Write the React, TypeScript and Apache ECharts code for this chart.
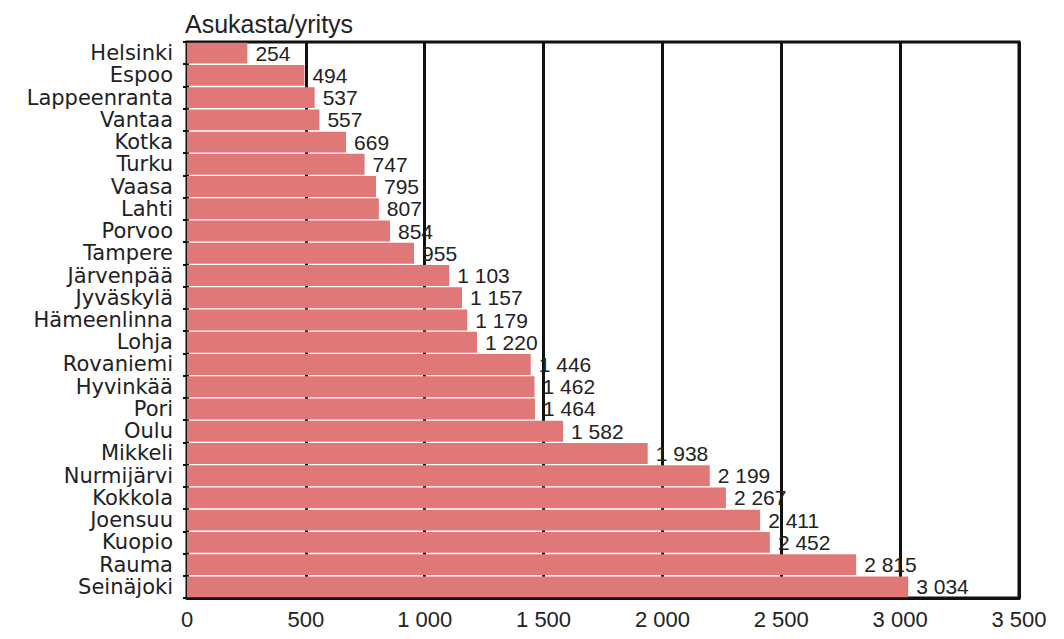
import React, { useEffect, useRef } from "react";
import * as echarts from "echarts";

const categories = [
  "Helsinki", "Espoo", "Lappeenranta", "Vantaa", "Kotka", "Turku", "Vaasa", "Lahti",
  "Porvoo", "Tampere", "Järvenpää", "Jyväskylä", "Hämeenlinna", "Lohja", "Rovaniemi",
  "Hyvinkää", "Pori", "Oulu", "Mikkeli", "Nurmijärvi", "Kokkola", "Joensuu", "Kuopio",
  "Rauma", "Seinäjoki",
];
const values = [
  254, 494, 537, 557, 669, 747, 795, 807, 854, 955, 1103, 1157, 1179, 1220, 1446,
  1462, 1464, 1582, 1938, 2199, 2267, 2411, 2452, 2815, 3034,
];
const title = "Asukasta/yritys";
const xMin = 0;
const xMax = 3500;
const xInterval = 500;

const fmt = (v: number) => String(Math.round(v)).replace(/\B(?=(\d{3})+(?!\d))/g, " ");

export default function App() {
  const ref = useRef<HTMLDivElement>(null);
  useEffect(() => {
    if (!ref.current) return;
    const chart = echarts.init(ref.current, null, { renderer: "svg" });
    const font = "Liberation Sans, Arial, sans-serif";
    chart.setOption({
      animation: false,
      backgroundColor: "#ffffff",
      title: {
        text: title,
        left: 180,
        top: 6,
        textStyle: { fontFamily: font, fontSize: 25, fontWeight: "normal", color: "#222" },
      },
      grid: {
        left: 187,
        right: 45,
        top: 42,
        bottom: 41,
        show: true,
        borderColor: "#111",
        borderWidth: 3,
        backgroundColor: "transparent",
      },
      xAxis: {
        type: "value",
        min: xMin,
        max: xMax,
        interval: xInterval,
        axisLine: { show: true, lineStyle: { color: "#111", width: 3 } },
        axisTick: { show: false },
        splitLine: { show: true, lineStyle: { color: "#111", width: 3 } },
        axisLabel: {
          formatter: (v: number) => fmt(v),
          fontFamily: font,
          fontSize: 22,
          color: "#222",
          margin: 10,
        },
      },
      yAxis: {
        type: "category",
        inverse: true,
        data: categories,
        axisLine: { show: true, lineStyle: { color: "#111", width: 2 } },
        axisTick: { show: true, interval: 0, length: 4, lineStyle: { color: "#111", width: 2 } },
        axisLabel: {
          interval: 0,
          fontFamily: "DejaVu Sans, sans-serif",
          fontSize: 21,
          lineHeight: 21,
          color: "#222",
          margin: 14,
        },
      },
      series: [
        {
          type: "bar",
          data: values,
          barCategoryGap: "6%",
          itemStyle: { color: "#e07878" },
          label: {
            show: true,
            position: "right",
            distance: 8,
            formatter: (p: any) => fmt(p.value),
            fontFamily: font,
            fontSize: 21,
            color: "#222",
          },
        },
      ],
    });
    return () => chart.dispose();
  }, []);
  return (
    <div
      ref={ref}
      style={{ position: "fixed", left: 0, top: 0, width: 1064, height: 639 }}
    />
  );
}
